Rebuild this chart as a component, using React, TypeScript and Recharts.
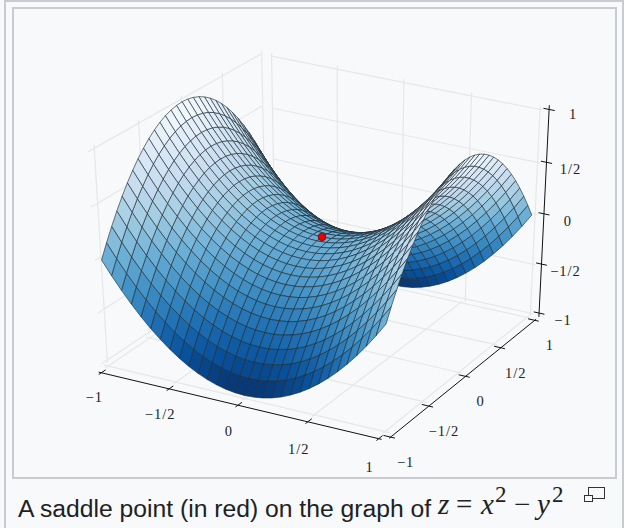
import React from "react";
import { ScatterChart, Scatter, XAxis, YAxis } from "recharts";

// Grid positions along x and y, in fifteenths of the -1..1 range
const gridSteps = [
  -15, -14, -13, -12, -11, -10, -9, -8, -7, -6, -5, -4, -3, -2, -1, 0,
  1, 2, 3, 4, 5, 6, 7, 8, 9, 10, 11, 12, 13, 14, 15,
];

// Surface heights in 1/225ths, half a row each (y from -1 to 0), the rest mirrors
const row15 = [0, 29, 56, 81, 104, 125, 144, 161, 176, 189, 200, 209, 216, 221, 224, 225];
const row14 = [-29, 0, 27, 52, 75, 96, 115, 132, 147, 160, 171, 180, 187, 192, 195, 196];
const row13 = [-56, -27, 0, 25, 48, 69, 88, 105, 120, 133, 144, 153, 160, 165, 168, 169];
const row12 = [-81, -52, -25, 0, 23, 44, 63, 80, 95, 108, 119, 128, 135, 140, 143, 144];
const row11 = [-104, -75, -48, -23, 0, 21, 40, 57, 72, 85, 96, 105, 112, 117, 120, 121];
const row10 = [-125, -96, -69, -44, -21, 0, 19, 36, 51, 64, 75, 84, 91, 96, 99, 100];
const row9 = [-144, -115, -88, -63, -40, -19, 0, 17, 32, 45, 56, 65, 72, 77, 80, 81];
const row8 = [-161, -132, -105, -80, -57, -36, -17, 0, 15, 28, 39, 48, 55, 60, 63, 64];
const row7 = [-176, -147, -120, -95, -72, -51, -32, -15, 0, 13, 24, 33, 40, 45, 48, 49];
const row6 = [-189, -160, -133, -108, -85, -64, -45, -28, -13, 0, 11, 20, 27, 32, 35, 36];
const row5 = [-200, -171, -144, -119, -96, -75, -56, -39, -24, -11, 0, 9, 16, 21, 24, 25];
const row4 = [-209, -180, -153, -128, -105, -84, -65, -48, -33, -20, -9, 0, 7, 12, 15, 16];
const row3 = [-216, -187, -160, -135, -112, -91, -72, -55, -40, -27, -16, -7, 0, 5, 8, 9];
const row2 = [-221, -192, -165, -140, -117, -96, -77, -60, -45, -32, -21, -12, -5, 0, 3, 4];
const row1 = [-224, -195, -168, -143, -120, -99, -80, -63, -48, -35, -24, -15, -8, -3, 0, 1];
const row0 = [-225, -196, -169, -144, -121, -100, -81, -64, -49, -36, -25, -16, -9, -4, -1, 0];

const halfRows = [
  row15, row14, row13, row12, row11, row10, row9, row8, row7, row6, row5, row4, row3, row2, row1, row0,
  row1, row2, row3, row4, row5, row6, row7, row8, row9, row10, row11, row12, row13, row14, row15,
];

const tickValues = [-1, -0.5, 0, 0.5, 1];
const xTickLabels = ["−1", "−1/2", "0", "1/2", "1"];
const yTickLabels = ["−1", "−1/2", "0", "1/2", "1"];
const zTickLabels = ["−1", "−1/2", "0", "1/2", "1"];

const saddlePoint = [0, 0, 0];

// matplotlib "Blues", dark end first
const blues = ["#08306b", "#08519c", "#2171b5", "#4292c6", "#6baed6", "#9ecae1", "#c6dbef", "#deebf7", "#f7fbff"];

type P3 = [number, number, number];

// Camera fitted to the reference, gives page pixels
const project = ([x, y, z]: P3) => {
  const w = 1 - 0.015 * x + 0.04 * y - 0.026 * z;
  return {
    px: (322 + 132.9 * x + 90.1 * y - 9 * z) / w,
    py: (237 + 26.35 * x - 42.85 * y - 110 * z) / w,
    w,
  };
};

const hexToRgb = (h: string) => [1, 3, 5].map((i) => parseInt(h.slice(i, i + 2), 16));

const colorFor = (z: number) => {
  const t = Math.min(0.9999, Math.max(0, (z + 1) / 2)) * (blues.length - 1);
  const i = Math.floor(t);
  const a = hexToRgb(blues[i]);
  const b = hexToRgb(blues[i + 1]);
  const c = a.map((v, k) => Math.round(v + (b[k] - v) * (t - i)));
  return `rgb(${c[0]},${c[1]},${c[2]})`;
};

const zRows = halfRows.map((r) => [...r, ...r.slice(0, -1).reverse()].map((v) => v / 225));
const coords = gridSteps.map((s) => s / 15);

// Quads sorted far to near so the front of the surface hides the back
const cells: { corners: ReturnType<typeof project>[]; fill: string; depth: number }[] = [];
for (let i = 0; i < coords.length - 1; i++) {
  for (let j = 0; j < coords.length - 1; j++) {
    const pts: P3[] = [
      [coords[i], coords[j], zRows[i][j]],
      [coords[i + 1], coords[j], zRows[i + 1][j]],
      [coords[i + 1], coords[j + 1], zRows[i + 1][j + 1]],
      [coords[i], coords[j + 1], zRows[i][j + 1]],
    ];
    const corners = pts.map(project);
    const meanZ = pts.reduce((s, p) => s + p[2], 0) / 4;
    const depth = corners.reduce((s, p) => s + p.w, 0) / 4;
    cells.push({ corners, fill: colorFor(meanZ), depth });
  }
}
cells.sort((a, b) => b.depth - a.depth);

const E = 1.03;
const wallLines: P3[][] = [];
tickValues.forEach((t) => {
  // left wall, its verticals sit a little off the back wall's
  wallLines.push([[-E, t + 0.04, -E], [-E, t + 0.04, E]]);
  wallLines.push([[-E, -E, t], [-E, E, t]]);
  // back wall
  const bx = t * 0.98 + 0.03;
  wallLines.push([[bx, E, -E], [bx, E, E]]);
  wallLines.push([[-0.95, E, t], [E, E, t]]);
  // floor
  wallLines.push([[t, -E, -E], [t, E, -E]]);
  wallLines.push([[-E, t, -E], [E, t, -E]]);
});

const xAxisAt = (x: number): P3 => [x, -1.08, -1.05];
const yAxisAt = (y: number): P3 => [1.04, y * 1.02 + 0.02, -1.07];
const zAxisAt = (z: number): P3 => [1.06, 1.06, z];

const axisLines: P3[][] = [
  [xAxisAt(-1.02), xAxisAt(1.02)],
  [yAxisAt(-1.02), yAxisAt(1.02)],
  [zAxisAt(-1.04), zAxisAt(1.04)],
];
tickValues.forEach((t) => {
  const a = xAxisAt(t);
  axisLines.push([[a[0], a[1] - 0.03, a[2]], [a[0], a[1] + 0.05, a[2]]]);
  const b = yAxisAt(t);
  axisLines.push([[b[0] - 0.05, b[1], b[2]], [b[0] + 0.03, b[1], b[2]]]);
  const c = zAxisAt(t);
  axisLines.push([[c[0] - 0.04, c[1], c[2]], [c[0] + 0.04, c[1], c[2]]]);
});

const labelPoints = [
  ...tickValues.map((t, i) => ({ ...project(xAxisAt(t)), text: xTickLabels[i], dx: i === 0 ? -7 : -9, dy: 29 + i })),
  ...tickValues.map((t, i) => ({ ...project(yAxisAt(t)), text: yTickLabels[i], dx: 15, dy: 30 })),
  ...tickValues.map((t, i) => ({ ...project(zAxisAt(t)), text: zTickLabels[i], dx: 24, dy: i === 4 ? 10 : 12 })),
];

const noMarker = () => null;

const TickLabel = (props: any) => {
  const { cx, cy, payload } = props;
  return (
    <text
      x={cx + payload.dx}
      y={cy + payload.dy}
      textAnchor="middle"
      fontFamily="'Liberation Serif', serif"
      fontSize={14.5}
      letterSpacing={1}
      fill="#222"
    >
      {payload.text}
    </text>
  );
};

const App = () => {
  return (
    <div style={{ position: "absolute", left: 0, top: 0, width: 624, height: 528, overflow: "hidden", background: "#f8f9fa" }}>
      <div style={{ position: "absolute", left: 4, top: 0, width: 616, height: 540, border: "2px solid #c8ccd1", boxSizing: "content-box" }} />
      <div style={{ position: "absolute", left: 12, top: 7, width: 601, height: 468, border: "2px solid #c8ccd1" }} />
      <div style={{ position: "absolute", left: 0, top: 0 }}>
        <ScatterChart width={624} height={528} margin={{ top: 0, right: 0, bottom: 0, left: 0 }}>
          <XAxis type="number" dataKey="px" domain={[0, 624]} hide />
          <YAxis type="number" dataKey="py" domain={[0, 528]} reversed hide />
          {wallLines.map((l, i) => (
            <Scatter
              key={`wall-${i}`}
              data={l.map(project)}
              shape={noMarker}
              line={{ stroke: "#e6e7e7", strokeWidth: 1.2 }}
              isAnimationActive={false}
            />
          ))}
          {cells.map((c, i) => (
            <Scatter
              key={`cell-${i}`}
              data={c.corners}
              shape={noMarker}
              lineJointType="linearClosed"
              line={{ fill: c.fill, stroke: "#1c2a33", strokeWidth: 0.85, strokeOpacity: 0.75 }}
              isAnimationActive={false}
            />
          ))}
          {axisLines.map((l, i) => (
            <Scatter
              key={`axis-${i}`}
              data={l.map(project)}
              shape={noMarker}
              line={{ stroke: "#111", strokeWidth: 1 }}
              isAnimationActive={false}
            />
          ))}
          <Scatter data={labelPoints} shape={TickLabel} isAnimationActive={false} />
          <Scatter
            data={[project(saddlePoint as P3)]}
            shape={(p: any) => <circle cx={p.cx} cy={p.cy} r={3.8} fill="#f00000" stroke="#700000" strokeWidth={0.8} />}
            isAnimationActive={false}
          />
        </ScatterChart>
      </div>
      <div style={{ position: "absolute", left: 18, top: 495, fontFamily: "'Liberation Sans', sans-serif", fontSize: 24.7, lineHeight: "28px", color: "#202122", whiteSpace: "nowrap" }}>
        A saddle point (in red) on the graph of
      </div>
      <div style={{ fontFamily: "'Liberation Serif', serif", color: "#202122", whiteSpace: "nowrap" }}>
        <span style={{ position: "absolute", left: 438, top: 488, fontSize: 29, fontStyle: "italic" }}>z</span>
        <span style={{ position: "absolute", left: 456, top: 488, fontSize: 29 }}>=</span>
        <span style={{ position: "absolute", left: 481, top: 488, fontSize: 29, fontStyle: "italic" }}>x</span>
        <span style={{ position: "absolute", left: 495, top: 482, fontSize: 23 }}>2</span>
        <span style={{ position: "absolute", left: 514, top: 488, fontSize: 29 }}>−</span>
        <span style={{ position: "absolute", left: 537, top: 488, fontSize: 29, fontStyle: "italic" }}>y</span>
        <span style={{ position: "absolute", left: 552, top: 482, fontSize: 23 }}>2</span>
      </div>
      <div style={{ position: "absolute", left: 588, top: 487, width: 15, height: 10, border: "1.5px solid #333", background: "#f8f9fa" }} />
      <div style={{ position: "absolute", left: 584, top: 495, width: 7, height: 5, border: "1.5px solid #333", background: "#f8f9fa" }} />
    </div>
  );
};

export default App;
